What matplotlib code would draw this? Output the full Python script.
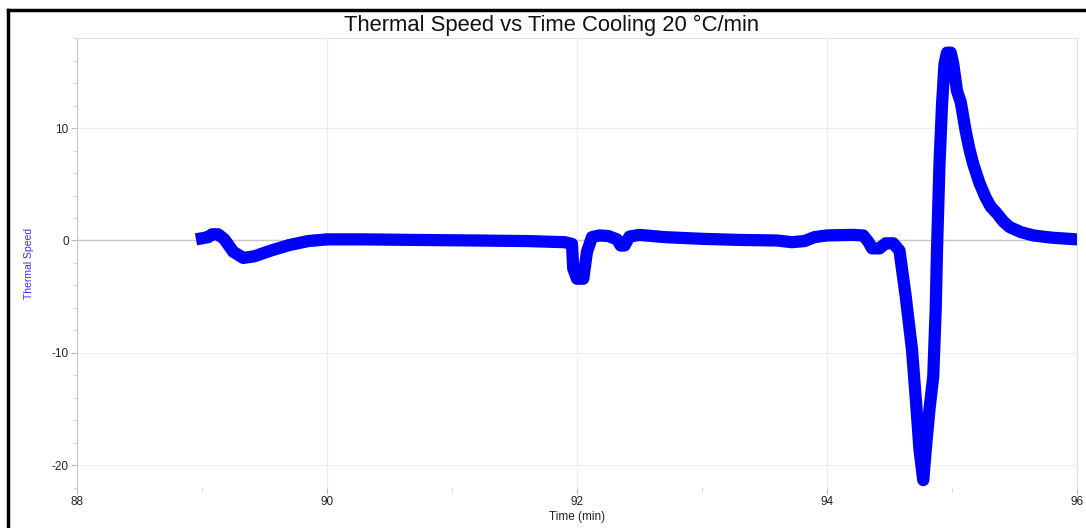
import matplotlib.pyplot as plt
from matplotlib.lines import Line2D
from matplotlib.ticker import MultipleLocator

plt.rcParams['font.family'] = ['Liberation Sans', 'DejaVu Sans']
plt.rcParams['axes.unicode_minus'] = False

# time (min) and thermal speed
time_min = [
    89.00, 89.05, 89.08, 89.13, 89.18, 89.25, 89.33, 89.42, 89.55, 89.70,
    89.85, 90.00, 90.30, 90.70, 91.20, 91.60, 91.90, 91.96, 91.97, 92.00,
    92.05, 92.08, 92.12, 92.18, 92.25, 92.32, 92.35, 92.38, 92.42, 92.50,
    92.70, 93.00, 93.30, 93.60, 93.72, 93.82, 93.90, 94.00, 94.20, 94.29,
    94.33, 94.36, 94.42, 94.47, 94.53, 94.58, 94.63, 94.68, 94.71, 94.74,
    94.77, 94.79, 94.82, 94.85, 94.87, 94.88, 94.90, 94.92, 94.94, 94.96,
    94.99, 95.01, 95.04, 95.07, 95.11, 95.14, 95.17, 95.22, 95.27, 95.31,
    95.36, 95.41, 95.46, 95.55, 95.65, 95.80, 96.00,
]
thermal_speed = [
    0.2, 0.3, 0.55, 0.55, 0.1, -1.0, -1.55, -1.4, -0.9, -0.4,
    -0.05, 0.1, 0.1, 0.05, 0.0, -0.05, -0.15, -0.3, -2.5, -3.4,
    -3.4, -1.0, 0.3, 0.45, 0.4, 0.1, -0.45, -0.45, 0.35, 0.5,
    0.3, 0.15, 0.05, 0.0, -0.15, -0.05, 0.3, 0.45, 0.5, 0.45,
    -0.1, -0.7, -0.7, -0.25, -0.25, -0.9, -5.0, -9.7, -14.0, -18.6,
    -21.3, -18.6, -15.0, -12.1, -6.0, -0.9, 6.8, 12.0, 15.7, 16.7,
    16.7, 15.7, 13.3, 12.3, 9.7, 8.1, 6.8, 5.1, 3.8, 3.0,
    2.4, 1.7, 1.2, 0.75, 0.45, 0.25, 0.1,
]

fig = plt.figure(figsize=(10.86, 5.28), dpi=100)
ax = fig.add_axes([0.0709, 0.0758, 0.9208, 0.8522])

ax.plot(time_min, thermal_speed, color='#0000ff', lw=8.8,
        solid_joinstyle='round', solid_capstyle='projecting')

ax.set_xlim(88, 96)
ax.set_ylim(-22, 18)
ax.xaxis.set_major_locator(MultipleLocator(2))
ax.xaxis.set_minor_locator(MultipleLocator(1))
ax.yaxis.set_major_locator(MultipleLocator(10))
ax.yaxis.set_minor_locator(MultipleLocator(2))

ax.grid(True, which='major', color='#ececec', lw=0.8)
ax.axhline(0, color='#c8c8c8', lw=1.0, zorder=1)
ax.set_axisbelow(True)

for side in ['top', 'right']:
    ax.spines[side].set_color('#e2e2e2')
ax.spines['left'].set_color('#c8c8c8')
ax.spines['bottom'].set_visible(False)

ax.tick_params(axis='both', which='major', length=4, color='#bbbbbb',
               labelsize=8.5, labelcolor='#222222', pad=2)
ax.tick_params(axis='both', which='minor', length=3, color='#cccccc')

fig.text(552 / 1086, 1 - 25 / 528, 'Thermal Speed vs Time Cooling 20 °C/min',
         fontsize=15.8, ha='center', va='center', color='#111111')
ax.set_xlabel('Time (min)', fontsize=8.5, color='#222222', labelpad=2)
ax.set_ylabel('Thermal Speed', fontsize=7.5, color='#3333ff')
ax.yaxis.set_label_coords(-0.043, 0.5)

# black frame around the figure (top and left edges visible)
fig.add_artist(Line2D([8 / 1086, 1.0], [1 - 10 / 528, 1 - 10 / 528],
                      transform=fig.transFigure, color='black', lw=2.5))
fig.add_artist(Line2D([8 / 1086, 8 / 1086], [0, 1 - 10 / 528],
                      transform=fig.transFigure, color='black', lw=2.5))

fig.savefig('out.png', dpi=100)
